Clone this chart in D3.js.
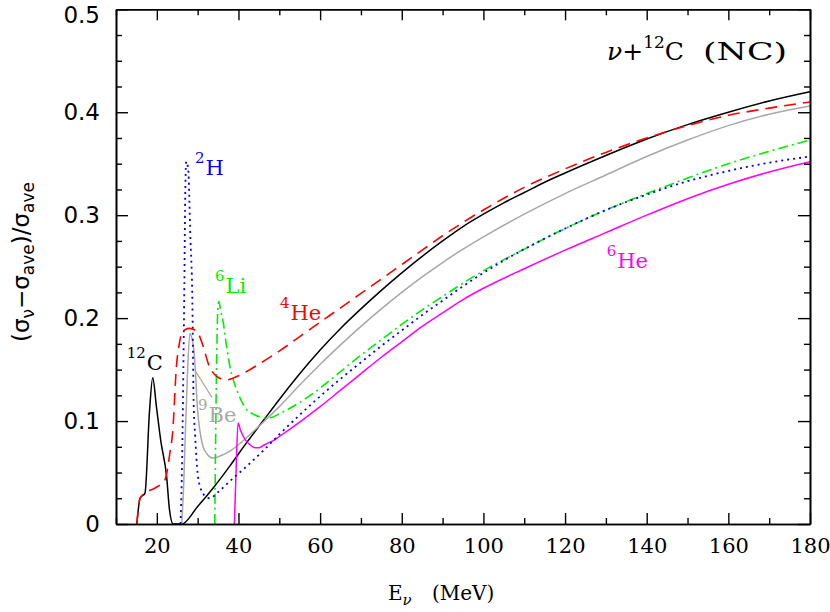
<!DOCTYPE html>
<html>
<head>
<meta charset="utf-8">
<script src="https://cdn.jsdelivr.net/npm/d3@7"></script>
<style>
  html, body { margin: 0; padding: 0; background: #fff; }
  svg { display: block; }
</style>
</head>
<body>
<svg id="chart" width="830" height="612"></svg>
<script>
// ---------------- data ----------------
const xDomain = [10, 180];
const yDomain = [0, 0.5];
const xMajorTicks = [20, 40, 60, 80, 100, 120, 140, 160, 180];
const yMajorTicks = [0, 0.1, 0.2, 0.3, 0.4, 0.5];

// 12C (black, solid)
const c12E = [15.1, 15.9, 17.1, 18.2, 19.0, 19.9, 21.0, 22.4, 23.1, 24.0, 26.1, 30, 34, 38, 42, 46, 50, 55, 60, 65, 70, 75, 80, 85, 90, 95, 100, 105, 110, 115, 120, 130, 140, 150, 160, 170, 180];
const c12V = [0, 0.025, 0.030, 0.109, 0.142, 0.114, 0.080, 0.046, 0.014, 0, 0, 0.017, 0.036, 0.057, 0.079, 0.100, 0.121, 0.146, 0.169, 0.190, 0.209, 0.227, 0.244, 0.260, 0.275, 0.289, 0.301, 0.312, 0.322, 0.332, 0.341, 0.358, 0.374, 0.388, 0.400, 0.411, 0.420];

// 4He (red, dashed)
const he4E = [15.1, 15.9, 17.1, 19.6, 22.0, 23.2, 23.9, 24.8, 25.5, 26.1, 27.0, 28.0, 29.8, 31.4, 32.6, 34.5, 37.0, 40.0, 42.4, 44.5, 46.5, 50, 55, 60, 65, 70, 75, 80, 85, 90, 95, 100, 110, 120, 130, 140, 150, 160, 170, 180];
const he4V = [0, 0.025, 0.030, 0.035, 0.043, 0.069, 0.090, 0.153, 0.175, 0.185, 0.189, 0.190, 0.187, 0.172, 0.156, 0.144, 0.140, 0.144, 0.149, 0.154, 0.159, 0.168, 0.182, 0.196, 0.210, 0.224, 0.238, 0.252, 0.266, 0.280, 0.293, 0.305, 0.327, 0.345, 0.361, 0.375, 0.387, 0.397, 0.404, 0.410];

// 9Be (gray, solid)
const be9E = [26.1, 26.6, 27.0, 27.5, 28.1, 28.6, 29.1, 29.5, 29.9, 30.5, 31.2, 32.3, 33.8, 35.5, 38.0, 40.0, 42.0, 44.5, 46.9, 50, 55, 60, 65, 70, 75, 80, 85, 90, 95, 100, 110, 120, 130, 140, 150, 160, 170, 180];
const be9V = [0, 0.040, 0.090, 0.145, 0.185, 0.180, 0.168, 0.145, 0.115, 0.092, 0.077, 0.068, 0.064, 0.066, 0.071, 0.077, 0.084, 0.093, 0.102, 0.114, 0.135, 0.155, 0.174, 0.192, 0.209, 0.225, 0.240, 0.254, 0.267, 0.279, 0.301, 0.321, 0.339, 0.357, 0.373, 0.387, 0.398, 0.406];
const beLeaderE = [29.4, 33.5];
const beLeaderV = [0.149, 0.123];

// 2H (blue, dotted)
const h2E = [25.8, 26.1, 26.5, 26.7, 27.0, 27.2, 27.7, 28.2, 28.7, 28.8, 29.0, 29.4, 30.0, 30.7, 31.4, 33.0, 35.0, 38.0, 42.0, 46.0, 50, 55, 60, 65, 70, 75, 80, 85, 90, 95, 100, 110, 120, 130, 140, 150, 160, 170, 180];
const h2V = [0, 0.043, 0.150, 0.217, 0.330, 0.352, 0.344, 0.280, 0.217, 0.188, 0.120, 0.085, 0.049, 0.035, 0.029, 0.025, 0.031, 0.042, 0.056, 0.071, 0.087, 0.106, 0.124, 0.141, 0.157, 0.173, 0.188, 0.203, 0.217, 0.231, 0.244, 0.267, 0.287, 0.305, 0.320, 0.333, 0.343, 0.351, 0.357];

// 6Li (green, dash-dot)
const li6E = [34.2, 34.4, 34.7, 35.0, 35.2, 35.6, 36.3, 37.0, 37.9, 38.8, 39.6, 40.8, 42.0, 43.5, 45.3, 47.0, 48.5, 50, 55, 60, 65, 70, 75, 80, 85, 90, 95, 100, 110, 120, 130, 140, 150, 160, 170, 180];
const li6V = [0, 0.080, 0.170, 0.213, 0.216, 0.208, 0.195, 0.175, 0.153, 0.139, 0.130, 0.119, 0.111, 0.107, 0.104, 0.103, 0.104, 0.107, 0.118, 0.132, 0.148, 0.164, 0.179, 0.194, 0.208, 0.221, 0.234, 0.246, 0.267, 0.287, 0.305, 0.321, 0.336, 0.350, 0.362, 0.373];

// 6He (magenta, solid)
const he6E = [39.0, 39.4, 39.9, 40.5, 41.2, 42.0, 42.8, 44.0, 45.0, 46.0, 46.9, 48.5, 50, 55, 60, 65, 70, 75, 80, 85, 90, 95, 100, 110, 120, 130, 140, 150, 160, 170, 180];
const he6V = [0, 0.050, 0.098, 0.091, 0.085, 0.080, 0.077, 0.074, 0.074, 0.076, 0.078, 0.081, 0.085, 0.099, 0.114, 0.130, 0.146, 0.162, 0.177, 0.192, 0.205, 0.218, 0.229, 0.248, 0.266, 0.283, 0.300, 0.316, 0.330, 0.342, 0.352];

// label anchors (data coordinates): superscript, element, E, value
const labelSup = ["12", "2", "6", "4", "9", "6"];
const labelEl = ["C", "H", "Li", "He", "Be", "He"];
const labelE = [12.62, 29.35, 34.25, 50.17, 30.09, 130.2];
const labelV = [0.1496, 0.339, 0.2244, 0.1982, 0.0994, 0.2487];
const labelColor = ["#000000", "#0000ff", "#00ee00", "#ff0000", "#a8a8a8", "#ff00ff"];

// ---------------- drawing ----------------
const svg = d3.select("#chart");
const x = d3.scaleLinear().domain(xDomain).range([116, 810]);
const y = d3.scaleLinear().domain(yDomain).range([524, 9.3]);

svg.append("clipPath").attr("id", "clip")
  .append("rect").attr("x", 116).attr("y", 9.3).attr("width", 694).attr("height", 514.7);

const plot = svg.append("g").attr("clip-path", "url(#clip)");

function drawSeries(E, V, color, dash, width) {
  const pts = d3.zip(E, V);
  const line = d3.line().x(d => x(d[0])).y(d => y(d[1])).curve(d3.curveMonotoneX);
  plot.append("path")
    .attr("d", line(pts))
    .attr("fill", "none")
    .attr("stroke", color)
    .attr("stroke-width", width)
    .attr("stroke-dasharray", dash)
    .attr("stroke-linejoin", "round");
}

drawSeries(c12E, c12V, "#000000", null, 1.5);
drawSeries(be9E, be9V, "#a8a8a8", null, 1.5);
drawSeries(beLeaderE, beLeaderV, "#a8a8a8", null, 1.2);
drawSeries(he6E, he6V, "#ff00ff", null, 1.5);
drawSeries(li6E, li6V, "#00ee00", "10,4,2,4", 1.6);
drawSeries(h2E, h2V, "#0000ff", "2,4", 1.8);
drawSeries(he4E, he4V, "#ff0000", "12,7", 1.6);

// ---------------- axes ----------------
const yMinor = d3.range(0, 0.5001, 0.025).filter(v => Math.abs(v * 10 - Math.round(v * 10)) > 1e-6);
const xMinor = d3.range(10, 180, 20);

function styleAxis(g) {
  g.selectAll(".domain").attr("stroke", "#000").attr("stroke-width", 1.6);
  g.selectAll(".tick line").attr("stroke", "#000").attr("stroke-width", 1.4);
}

// bottom
svg.append("g").attr("transform", "translate(0,524)")
  .call(d3.axisBottom(x).tickValues(xMajorTicks).tickSize(-11).tickSizeOuter(0).tickPadding(14).tickFormat(d3.format("d")))
  .call(styleAxis)
  .call(g => g.selectAll("text").attr("font-family", "DejaVu Serif").attr("font-size", 21).attr("fill", "#000"));
svg.append("g").attr("transform", "translate(0,524)")
  .call(d3.axisBottom(x).tickValues(xMinor).tickSize(-6).tickSizeOuter(0).tickFormat(""))
  .call(styleAxis);
// top
svg.append("g").attr("transform", "translate(0,9.3)")
  .call(d3.axisTop(x).tickValues(xMajorTicks).tickSize(-11).tickSizeOuter(0).tickFormat(""))
  .call(styleAxis);
svg.append("g").attr("transform", "translate(0,9.3)")
  .call(d3.axisTop(x).tickValues(xMinor).tickSize(-6).tickSizeOuter(0).tickFormat(""))
  .call(styleAxis);
// left
svg.append("g").attr("transform", "translate(116,0)")
  .call(d3.axisLeft(y).tickValues(yMajorTicks).tickSize(-12).tickSizeOuter(0).tickPadding(16)
    .tickFormat(d => d === 0 ? "0" : d3.format(".1f")(d)))
  .call(styleAxis)
  .call(g => g.selectAll("text").attr("font-family", "DejaVu Sans").attr("font-size", 23).attr("fill", "#000")
    .attr("dy", d => d === 0.5 ? "0.56em" : "0.32em"));
svg.append("g").attr("transform", "translate(116,0)")
  .call(d3.axisLeft(y).tickValues(yMinor).tickSize(-6).tickSizeOuter(0).tickFormat(""))
  .call(styleAxis);
// right
svg.append("g").attr("transform", "translate(810,0)")
  .call(d3.axisRight(y).tickValues(yMajorTicks).tickSize(-12).tickSizeOuter(0).tickFormat(""))
  .call(styleAxis);
svg.append("g").attr("transform", "translate(810,0)")
  .call(d3.axisRight(y).tickValues(yMinor).tickSize(-6).tickSizeOuter(0).tickFormat(""))
  .call(styleAxis);

// ---------------- labels ----------------
labelSup.forEach((s, i) => {
  const t = svg.append("text")
    .attr("x", x(labelE[i])).attr("y", y(labelV[i]))
    .attr("font-family", "DejaVu Serif").attr("fill", labelColor[i]);
  t.append("tspan").attr("font-size", 15).attr("dy", -12).text(s);
  t.append("tspan").attr("font-size", 21).attr("dy", 12).attr("dx", 1).text(labelEl[i]);
});

// title
const title = svg.append("text")
  .attr("x", x(130.28)).attr("y", y(0.4507))
  .attr("font-family", "DejaVu Serif").attr("font-size", 25).attr("fill", "#000");
title.append("tspan").attr("font-style", "italic").text("ν");
title.append("tspan").text("+");
title.append("tspan").attr("font-size", 17).attr("dy", -12).text("12");
title.append("tspan").attr("dy", 12).text("C");
svg.append("text")
  .attr("x", 703).attr("y", y(0.4507))
  .attr("font-family", "DejaVu Serif").attr("font-size", 25).attr("fill", "#000")
  .attr("textLength", 84).attr("lengthAdjust", "spacingAndGlyphs")
  .text("(NC)");

// x axis title
const xt = svg.append("text").attr("x", 388).attr("y", 600)
  .attr("font-family", "DejaVu Serif").attr("font-size", 20).attr("fill", "#000");
xt.append("tspan").text("E");
xt.append("tspan").attr("font-size", 15).attr("dy", 5).attr("font-style", "italic").text("ν");
xt.append("tspan").attr("x", 432).attr("dy", -5).text("(MeV)");

// y axis title
const yt = svg.append("text")
  .attr("transform", "translate(29,262) rotate(-90)")
  .attr("text-anchor", "middle")
  .attr("font-family", "DejaVu Sans").attr("font-size", 23).attr("fill", "#000");
yt.append("tspan").text("(σ");
yt.append("tspan").attr("font-size", 17).attr("dy", 5).text("ν");
yt.append("tspan").attr("dy", -5).text("−σ");
yt.append("tspan").attr("font-size", 17).attr("dy", 5).text("ave");
yt.append("tspan").attr("dy", -5).text(")/σ");
yt.append("tspan").attr("font-size", 17).attr("dy", 5).text("ave");
</script>
</body>
</html>
